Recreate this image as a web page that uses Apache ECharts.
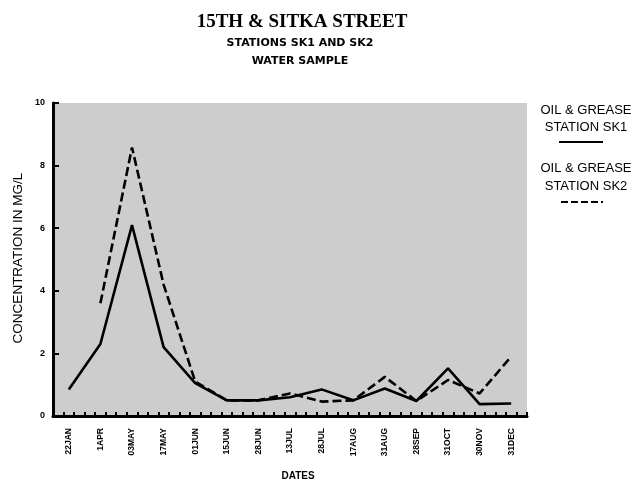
<!DOCTYPE html>
<html>
<head>
<meta charset="utf-8">
<script src="https://cdn.jsdelivr.net/npm/echarts@6/dist/echarts.min.js"></script>
<style>
html,body{margin:0;padding:0;background:#fff;}
#chart{width:635px;height:483px;}
</style>
</head>
<body>
<div id="chart"></div>
<script>
const dates = ["22JAN","1APR","03MAY","17MAY","01JUN","15JUN","28JUN","13JUL","28JUL","17AUG","31AUG","28SEP","31OCT","30NOV","31DEC"];
const sk1 = [0.85, 2.3, 6.1, 2.2, 1.05, 0.5, 0.5, 0.6, 0.85, 0.5, 0.88, 0.48, 1.52, 0.38, 0.4];
const sk2 = [null, 3.6, 8.58, 4.2, 1.1, 0.5, 0.5, 0.72, 0.46, 0.5, 1.25, 0.48, 1.15, 0.72, 1.9];
const yTicks = [0, 2, 4, 6, 8, 10];
const sans = "'Liberation Sans', Arial, sans-serif";
const wide = "'DejaVu Sans', sans-serif";

const chart = echarts.init(document.getElementById('chart'), null, {renderer: 'canvas'});
chart.setOption({
  backgroundColor: '#ffffff',
  animation: false,
  grid: {left: 53, right: 108, top: 103, bottom: 67, show: true, backgroundColor: '#cdcdcd', borderWidth: 0},
  xAxis: [{
    type: 'category', data: dates, boundaryGap: true,
    axisLine: {lineStyle: {color: '#000', width: 3}},
    axisTick: {show: false},
    axisLabel: {rotate: 90, fontSize: 8.5, fontWeight: 'bold', fontFamily: sans, color: '#000', margin: 12, interval: 0}
  }, {
    type: 'value', min: 0, max: 45, interval: 1, position: 'bottom',
    axisLine: {show: false},
    axisTick: {show: true, inside: true, length: 4, lineStyle: {color: '#000', width: 2}},
    axisLabel: {show: false}, splitLine: {show: false}
  }],
  yAxis: {
    type: 'value', min: yTicks[0], max: yTicks[yTicks.length - 1], interval: 2,
    axisLine: {show: true, lineStyle: {color: '#000', width: 3}},
    axisTick: {show: true, inside: true, length: 6, lineStyle: {color: '#000', width: 2}},
    axisLabel: {fontSize: 9, fontWeight: 'bold', fontFamily: sans, color: '#000', margin: 8},
    splitLine: {show: false}
  },
  series: [{
    name: 'SK1', type: 'line', data: sk1, symbol: 'none', xAxisIndex: 0,
    lineStyle: {color: '#000', width: 2.6}
  }, {
    name: 'SK2', type: 'line', data: sk2, symbol: 'none', xAxisIndex: 0,
    lineStyle: {color: '#000', width: 2.6, type: [9, 4]}
  }],
  graphic: [
    {type: 'text', x: 302, y: 22, style: {text: '15TH & SITKA STREET', font: "bold 19px 'Liberation Serif', serif", fill: '#000', align: 'center', verticalAlign: 'middle'}},
    {type: 'text', x: 300, y: 43, style: {text: 'STATIONS SK1 AND SK2', font: "bold 11px " + wide, fill: '#000', align: 'center', verticalAlign: 'middle'}},
    {type: 'text', x: 300, y: 61, style: {text: 'WATER SAMPLE', font: "bold 11px " + wide, fill: '#000', align: 'center', verticalAlign: 'middle'}},
    {type: 'text', x: 298, y: 476, style: {text: 'DATES', font: "bold 10px " + sans, fill: '#000', align: 'center', verticalAlign: 'middle'}},
    {type: 'text', x: 18, y: 258, rotation: Math.PI / 2, style: {text: 'CONCENTRATION IN MG/L', font: "13.5px " + sans, fill: '#000', align: 'center', verticalAlign: 'middle'}},
    {type: 'text', x: 586, y: 110, style: {text: 'OIL & GREASE', font: "13px " + sans, fill: '#000', align: 'center', verticalAlign: 'middle'}},
    {type: 'text', x: 586, y: 127, style: {text: 'STATION SK1', font: "13px " + sans, fill: '#000', align: 'center', verticalAlign: 'middle'}},
    {type: 'line', shape: {x1: 559, y1: 142, x2: 603, y2: 142}, style: {stroke: '#000', lineWidth: 2}},
    {type: 'text', x: 586, y: 168, style: {text: 'OIL & GREASE', font: "13px " + sans, fill: '#000', align: 'center', verticalAlign: 'middle'}},
    {type: 'text', x: 586, y: 186, style: {text: 'STATION SK2', font: "13px " + sans, fill: '#000', align: 'center', verticalAlign: 'middle'}},
    {type: 'line', shape: {x1: 561, y1: 202, x2: 603, y2: 202}, style: {stroke: '#000', lineWidth: 2, lineDash: [7, 3]}}
  ]
});
</script>
</body>
</html>
